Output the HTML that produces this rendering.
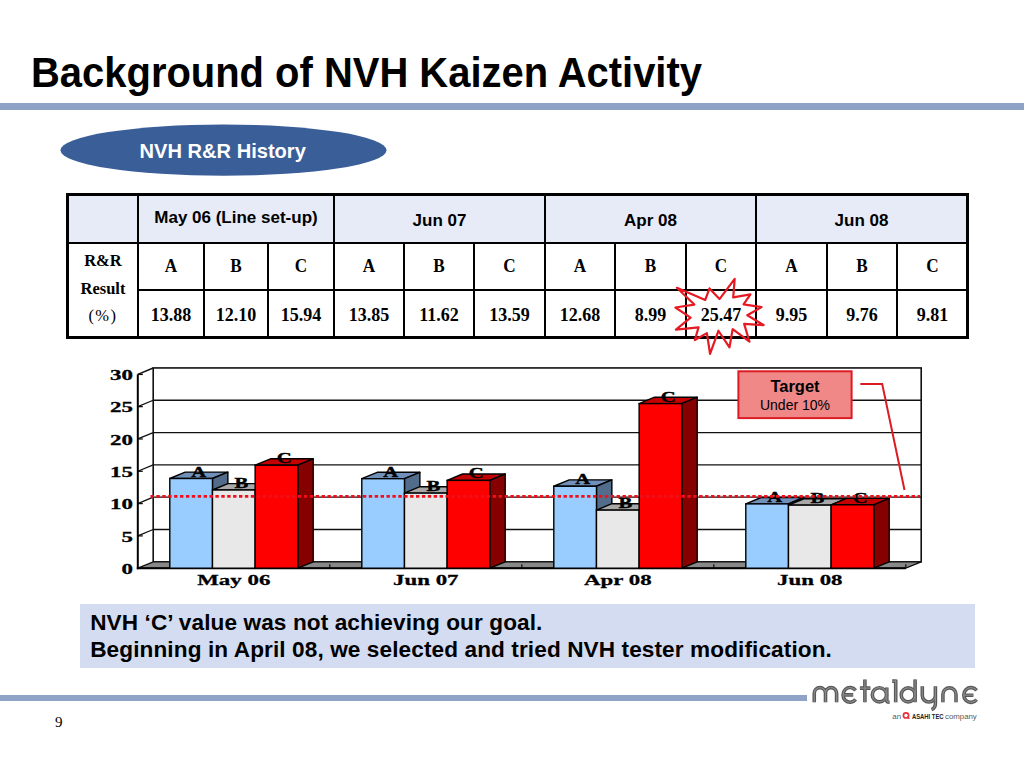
<!DOCTYPE html>
<html><head><meta charset="utf-8">
<style>
*{margin:0;padding:0;box-sizing:border-box}
html,body{width:1024px;height:768px;overflow:hidden;background:#fff}
body{position:relative;font-family:"Liberation Sans",sans-serif;color:#000}
.abs{position:absolute}
.ln{position:absolute;background:#000}
.hd{position:absolute;text-align:center;font:bold 17px/20px "Liberation Sans",sans-serif;white-space:nowrap}
.ab{position:absolute;text-align:center;font:bold 19.5px/20px "Liberation Serif",serif;transform:scaleX(0.88)}
.vv{position:absolute;text-align:center;font:bold 18px/20px "Liberation Serif",serif}
.rr{position:absolute;text-align:center;font:bold 16.5px/28.3px "Liberation Serif",serif}
#title{position:absolute;left:31.2px;top:47.8px;font:bold 42px/50px "Liberation Sans",sans-serif;white-space:nowrap;transform:scaleX(0.951);transform-origin:0 0}
#tl{position:absolute;left:0;top:103px;width:1024px;height:7px;background:#8fa3c6}
#bl{position:absolute;left:0;top:695px;width:807px;height:6px;background:#8fa3c6}
#box{position:absolute;left:80px;top:604px;width:895px;height:64px;background:#d4dcf1}
#box div{position:absolute;left:10.2px;font:bold 22.6px/24px "Liberation Sans",sans-serif;letter-spacing:0.1px;white-space:nowrap}
#pn{position:absolute;left:55px;top:713px;font:15px/18px "Liberation Serif",serif}
</style></head><body>
<div id="title">Background of NVH Kaizen Activity</div>
<div id="tl"></div>
<svg class="abs" style="left:0;top:0" width="1024" height="768" viewBox="0 0 1024 768">
<ellipse cx="223.5" cy="150.2" rx="163" ry="25.6" fill="#3a5e98"/>
<text x="222.7" y="158.3" text-anchor="middle" font-family="Liberation Sans" font-weight="bold" font-size="20.1" fill="#fff">NVH R&amp;R History</text>
</svg>
<div style="position:absolute;left:66px;top:193px;width:903px;height:50px;background:#e7ebf7"></div>
<div class="ln" style="left:137px;top:193px;width:2px;height:146px"></div>
<div class="ln" style="left:203px;top:242px;width:2px;height:97px"></div>
<div class="ln" style="left:267px;top:242px;width:2px;height:97px"></div>
<div class="ln" style="left:333px;top:193px;width:2px;height:146px"></div>
<div class="ln" style="left:403px;top:242px;width:2px;height:97px"></div>
<div class="ln" style="left:473px;top:242px;width:2px;height:97px"></div>
<div class="ln" style="left:544px;top:193px;width:2px;height:146px"></div>
<div class="ln" style="left:614px;top:242px;width:2px;height:97px"></div>
<div class="ln" style="left:685px;top:242px;width:2px;height:97px"></div>
<div class="ln" style="left:755px;top:193px;width:2px;height:146px"></div>
<div class="ln" style="left:826px;top:242px;width:2px;height:97px"></div>
<div class="ln" style="left:896px;top:242px;width:2px;height:97px"></div>
<div class="ln" style="left:66px;top:242px;width:903px;height:2px"></div>
<div class="ln" style="left:137px;top:289px;width:832px;height:2px"></div>
<div class="ln" style="left:66px;top:193px;width:903px;height:3px"></div>
<div class="ln" style="left:66px;top:336px;width:903px;height:3px"></div>
<div class="ln" style="left:66px;top:193px;width:3px;height:146px"></div>
<div class="ln" style="left:966px;top:193px;width:3px;height:146px"></div>
<div class="hd" style="left:139px;width:194px;top:207.5px">May 06 (Line set-up)</div>
<div class="hd" style="left:335px;width:209px;top:210.5px">Jun 07</div>
<div class="hd" style="left:546px;width:209px;top:210.5px">Apr 08</div>
<div class="hd" style="left:757px;width:209px;top:210.5px">Jun 08</div>
<div class="ab" style="left:139px;width:64px;top:256px">A</div>
<div class="vv" style="left:139px;width:64px;top:305.2px">13.88</div>
<div class="ab" style="left:205px;width:62px;top:256px">B</div>
<div class="vv" style="left:205px;width:62px;top:305.2px">12.10</div>
<div class="ab" style="left:269px;width:64px;top:256px">C</div>
<div class="vv" style="left:269px;width:64px;top:305.2px">15.94</div>
<div class="ab" style="left:335px;width:68px;top:256px">A</div>
<div class="vv" style="left:335px;width:68px;top:305.2px">13.85</div>
<div class="ab" style="left:405px;width:68px;top:256px">B</div>
<div class="vv" style="left:405px;width:68px;top:305.2px">11.62</div>
<div class="ab" style="left:475px;width:69px;top:256px">C</div>
<div class="vv" style="left:475px;width:69px;top:305.2px">13.59</div>
<div class="ab" style="left:546px;width:68px;top:256px">A</div>
<div class="vv" style="left:546px;width:68px;top:305.2px">12.68</div>
<div class="ab" style="left:616px;width:69px;top:256px">B</div>
<div class="vv" style="left:616px;width:69px;top:305.2px">8.99</div>
<div class="ab" style="left:687px;width:68px;top:256px">C</div>
<div class="vv" style="left:687px;width:68px;top:305.2px">25.47</div>
<div class="ab" style="left:757px;width:69px;top:256px">A</div>
<div class="vv" style="left:757px;width:69px;top:305.2px">9.95</div>
<div class="ab" style="left:828px;width:68px;top:256px">B</div>
<div class="vv" style="left:828px;width:68px;top:305.2px">9.76</div>
<div class="ab" style="left:898px;width:69px;top:256px">C</div>
<div class="vv" style="left:898px;width:69px;top:305.2px">9.81</div>
<div class="rr" style="left:69px;width:68px;top:247px">R&amp;R<br>Result<br><span style="font-weight:normal;letter-spacing:1.5px;position:relative;top:-2px">(%)</span></div>
<svg class="abs" style="left:0;top:0" width="1024" height="768" viewBox="0 0 1024 768">
<polygon points="719.5,299.04 734.7,278.9 733.2,297.39 750.45,294.38 743.6,304.3 761.55,307.15 747.3,315.27 763.6,325.05 744.15,323.84 749.49,341.73 732.65,329.1 729.49,347.43 718.41,330.76 710.05,353.9 706.9,333.16 694.84,340.07 698.54,327.29 675.95,329.55 690.6,317.66 675.4,307.51 694.29,304.58 676.91,287.81 705.26,299.97 709.5,288.38" fill="none" stroke="#e61a22" stroke-width="2.2" stroke-linejoin="round"/>
<rect x="153.2" y="367.94" width="768" height="193.86" fill="#fff" stroke="none"/>
<line x1="153.2" y1="529.49" x2="921.2" y2="529.49" stroke="#111" stroke-width="1.3"/>
<line x1="137.8" y1="535.89" x2="153.2" y2="529.49" stroke="#111" stroke-width="1.3"/>
<line x1="137.8" y1="535.89" x2="142.8" y2="535.89" stroke="#111" stroke-width="1.3"/>
<line x1="153.2" y1="497.18" x2="921.2" y2="497.18" stroke="#111" stroke-width="1.3"/>
<line x1="137.8" y1="503.58" x2="153.2" y2="497.18" stroke="#111" stroke-width="1.3"/>
<line x1="137.8" y1="503.58" x2="142.8" y2="503.58" stroke="#111" stroke-width="1.3"/>
<line x1="153.2" y1="464.87" x2="921.2" y2="464.87" stroke="#111" stroke-width="1.3"/>
<line x1="137.8" y1="471.27" x2="153.2" y2="464.87" stroke="#111" stroke-width="1.3"/>
<line x1="137.8" y1="471.27" x2="142.8" y2="471.27" stroke="#111" stroke-width="1.3"/>
<line x1="153.2" y1="432.56" x2="921.2" y2="432.56" stroke="#111" stroke-width="1.3"/>
<line x1="137.8" y1="438.96" x2="153.2" y2="432.56" stroke="#111" stroke-width="1.3"/>
<line x1="137.8" y1="438.96" x2="142.8" y2="438.96" stroke="#111" stroke-width="1.3"/>
<line x1="153.2" y1="400.25" x2="921.2" y2="400.25" stroke="#111" stroke-width="1.3"/>
<line x1="137.8" y1="406.65" x2="153.2" y2="400.25" stroke="#111" stroke-width="1.3"/>
<line x1="137.8" y1="406.65" x2="142.8" y2="406.65" stroke="#111" stroke-width="1.3"/>
<line x1="137.8" y1="374.34" x2="153.2" y2="367.94" stroke="#111" stroke-width="1.5"/>
<line x1="137.8" y1="374.34" x2="142.8" y2="374.34" stroke="#111" stroke-width="1.5"/>
<rect x="153.2" y="367.94" width="768" height="193.86" fill="none" stroke="#111" stroke-width="1.6"/>
<polygon points="137.8,568.2 905.8,568.2 921.2,561.8 153.2,561.8" fill="#888" stroke="#111" stroke-width="1.3"/>
<line x1="329.8" y1="568.2" x2="329.8" y2="564.2" stroke="#111" stroke-width="1.2"/>
<line x1="521.8" y1="568.2" x2="521.8" y2="564.2" stroke="#111" stroke-width="1.2"/>
<line x1="713.8" y1="568.2" x2="713.8" y2="564.2" stroke="#111" stroke-width="1.2"/>
<line x1="905.8" y1="568.2" x2="905.8" y2="564.2" stroke="#111" stroke-width="1.2"/>
<line x1="137.8" y1="374.34" x2="137.8" y2="569.2" stroke="#000" stroke-width="2"/>
<line x1="136.8" y1="568.2" x2="905.8" y2="568.2" stroke="#000" stroke-width="2"/>
<polygon points="169.8,478.51 212.47,478.51 227.87,472.11 185.2,472.11" fill="#7090ba" stroke="#000" stroke-width="1.4" stroke-linejoin="round"/>
<polygon points="212.47,478.51 227.87,472.11 227.87,561.8 212.47,568.2" fill="#526c8c" stroke="#000" stroke-width="1.4" stroke-linejoin="round"/>
<rect x="169.8" y="478.51" width="42.67" height="89.69" fill="#99ccff" stroke="#000" stroke-width="1.4"/>
<polygon points="212.47,490.01 255.13,490.01 270.53,483.61 227.87,483.61" fill="#a8a8a8" stroke="#000" stroke-width="1.4" stroke-linejoin="round"/>
<polygon points="255.13,490.01 270.53,483.61 270.53,561.8 255.13,568.2" fill="#7a7a7a" stroke="#000" stroke-width="1.4" stroke-linejoin="round"/>
<rect x="212.47" y="490.01" width="42.67" height="78.19" fill="#e8e8e8" stroke="#000" stroke-width="1.4"/>
<polygon points="255.13,465.2 297.8,465.2 313.2,458.8 270.53,458.8" fill="#c40000" stroke="#000" stroke-width="1.4" stroke-linejoin="round"/>
<polygon points="297.8,465.2 313.2,458.8 313.2,561.8 297.8,568.2" fill="#860000" stroke="#000" stroke-width="1.4" stroke-linejoin="round"/>
<rect x="255.13" y="465.2" width="42.67" height="103" fill="#ff0000" stroke="#000" stroke-width="1.4"/>
<polygon points="361.8,478.7 404.47,478.7 419.87,472.3 377.2,472.3" fill="#7090ba" stroke="#000" stroke-width="1.4" stroke-linejoin="round"/>
<polygon points="404.47,478.7 419.87,472.3 419.87,561.8 404.47,568.2" fill="#526c8c" stroke="#000" stroke-width="1.4" stroke-linejoin="round"/>
<rect x="361.8" y="478.7" width="42.67" height="89.5" fill="#99ccff" stroke="#000" stroke-width="1.4"/>
<polygon points="404.47,493.11 447.13,493.11 462.53,486.71 419.87,486.71" fill="#a8a8a8" stroke="#000" stroke-width="1.4" stroke-linejoin="round"/>
<polygon points="447.13,493.11 462.53,486.71 462.53,561.8 447.13,568.2" fill="#7a7a7a" stroke="#000" stroke-width="1.4" stroke-linejoin="round"/>
<rect x="404.47" y="493.11" width="42.67" height="75.09" fill="#e8e8e8" stroke="#000" stroke-width="1.4"/>
<polygon points="447.13,480.38 489.8,480.38 505.2,473.98 462.53,473.98" fill="#c40000" stroke="#000" stroke-width="1.4" stroke-linejoin="round"/>
<polygon points="489.8,480.38 505.2,473.98 505.2,561.8 489.8,568.2" fill="#860000" stroke="#000" stroke-width="1.4" stroke-linejoin="round"/>
<rect x="447.13" y="480.38" width="42.67" height="87.82" fill="#ff0000" stroke="#000" stroke-width="1.4"/>
<polygon points="553.8,486.26 596.47,486.26 611.87,479.86 569.2,479.86" fill="#7090ba" stroke="#000" stroke-width="1.4" stroke-linejoin="round"/>
<polygon points="596.47,486.26 611.87,479.86 611.87,561.8 596.47,568.2" fill="#526c8c" stroke="#000" stroke-width="1.4" stroke-linejoin="round"/>
<rect x="553.8" y="486.26" width="42.67" height="81.94" fill="#99ccff" stroke="#000" stroke-width="1.4"/>
<polygon points="596.47,510.11 639.13,510.11 654.53,503.71 611.87,503.71" fill="#a8a8a8" stroke="#000" stroke-width="1.4" stroke-linejoin="round"/>
<polygon points="639.13,510.11 654.53,503.71 654.53,561.8 639.13,568.2" fill="#7a7a7a" stroke="#000" stroke-width="1.4" stroke-linejoin="round"/>
<rect x="596.47" y="510.11" width="42.67" height="58.09" fill="#e8e8e8" stroke="#000" stroke-width="1.4"/>
<polygon points="639.13,403.61 681.8,403.61 697.2,397.21 654.53,397.21" fill="#c40000" stroke="#000" stroke-width="1.4" stroke-linejoin="round"/>
<polygon points="681.8,403.61 697.2,397.21 697.2,561.8 681.8,568.2" fill="#860000" stroke="#000" stroke-width="1.4" stroke-linejoin="round"/>
<rect x="639.13" y="403.61" width="42.67" height="164.59" fill="#ff0000" stroke="#000" stroke-width="1.4"/>
<polygon points="745.8,503.9 788.47,503.9 803.87,497.5 761.2,497.5" fill="#7090ba" stroke="#000" stroke-width="1.4" stroke-linejoin="round"/>
<polygon points="788.47,503.9 803.87,497.5 803.87,561.8 788.47,568.2" fill="#526c8c" stroke="#000" stroke-width="1.4" stroke-linejoin="round"/>
<rect x="745.8" y="503.9" width="42.67" height="64.3" fill="#99ccff" stroke="#000" stroke-width="1.4"/>
<polygon points="788.47,505.13 831.13,505.13 846.53,498.73 803.87,498.73" fill="#a8a8a8" stroke="#000" stroke-width="1.4" stroke-linejoin="round"/>
<polygon points="831.13,505.13 846.53,498.73 846.53,561.8 831.13,568.2" fill="#7a7a7a" stroke="#000" stroke-width="1.4" stroke-linejoin="round"/>
<rect x="788.47" y="505.13" width="42.67" height="63.07" fill="#e8e8e8" stroke="#000" stroke-width="1.4"/>
<polygon points="831.13,504.81 873.8,504.81 889.2,498.41 846.53,498.41" fill="#c40000" stroke="#000" stroke-width="1.4" stroke-linejoin="round"/>
<polygon points="873.8,504.81 889.2,498.41 889.2,561.8 873.8,568.2" fill="#860000" stroke="#000" stroke-width="1.4" stroke-linejoin="round"/>
<rect x="831.13" y="504.81" width="42.67" height="63.39" fill="#ff0000" stroke="#000" stroke-width="1.4"/>
<text x="0" y="0" transform="translate(198.83,476.51) scale(1.5,1)" text-anchor="middle" font-family="Liberation Serif" font-weight="bold" font-size="13.8" stroke="#000" stroke-width="0.35">A</text>
<text x="0" y="0" transform="translate(241.5,488.01) scale(1.5,1)" text-anchor="middle" font-family="Liberation Serif" font-weight="bold" font-size="13.8" stroke="#000" stroke-width="0.35">B</text>
<text x="0" y="0" transform="translate(284.17,463.2) scale(1.5,1)" text-anchor="middle" font-family="Liberation Serif" font-weight="bold" font-size="13.8" stroke="#000" stroke-width="0.35">C</text>
<text x="0" y="0" transform="translate(390.83,476.7) scale(1.5,1)" text-anchor="middle" font-family="Liberation Serif" font-weight="bold" font-size="13.8" stroke="#000" stroke-width="0.35">A</text>
<text x="0" y="0" transform="translate(433.5,491.11) scale(1.5,1)" text-anchor="middle" font-family="Liberation Serif" font-weight="bold" font-size="13.8" stroke="#000" stroke-width="0.35">B</text>
<text x="0" y="0" transform="translate(476.17,478.38) scale(1.5,1)" text-anchor="middle" font-family="Liberation Serif" font-weight="bold" font-size="13.8" stroke="#000" stroke-width="0.35">C</text>
<text x="0" y="0" transform="translate(582.83,484.26) scale(1.5,1)" text-anchor="middle" font-family="Liberation Serif" font-weight="bold" font-size="13.8" stroke="#000" stroke-width="0.35">A</text>
<text x="0" y="0" transform="translate(625.5,508.11) scale(1.5,1)" text-anchor="middle" font-family="Liberation Serif" font-weight="bold" font-size="13.8" stroke="#000" stroke-width="0.35">B</text>
<text x="0" y="0" transform="translate(668.17,401.61) scale(1.5,1)" text-anchor="middle" font-family="Liberation Serif" font-weight="bold" font-size="13.8" stroke="#000" stroke-width="0.35">C</text>
<text x="0" y="0" transform="translate(774.83,501.9) scale(1.5,1)" text-anchor="middle" font-family="Liberation Serif" font-weight="bold" font-size="13.8" stroke="#000" stroke-width="0.35">A</text>
<text x="0" y="0" transform="translate(817.5,503.13) scale(1.5,1)" text-anchor="middle" font-family="Liberation Serif" font-weight="bold" font-size="13.8" stroke="#000" stroke-width="0.35">B</text>
<text x="0" y="0" transform="translate(860.17,502.81) scale(1.5,1)" text-anchor="middle" font-family="Liberation Serif" font-weight="bold" font-size="13.8" stroke="#000" stroke-width="0.35">C</text>
<text x="0" y="0" transform="translate(133,574) scale(1.48,1)" text-anchor="end" font-family="Liberation Serif" font-weight="bold" font-size="15.5" stroke="#000" stroke-width="0.3">0</text>
<text x="0" y="0" transform="translate(133,541.69) scale(1.48,1)" text-anchor="end" font-family="Liberation Serif" font-weight="bold" font-size="15.5" stroke="#000" stroke-width="0.3">5</text>
<text x="0" y="0" transform="translate(133,509.38) scale(1.48,1)" text-anchor="end" font-family="Liberation Serif" font-weight="bold" font-size="15.5" stroke="#000" stroke-width="0.3">10</text>
<text x="0" y="0" transform="translate(133,477.07) scale(1.48,1)" text-anchor="end" font-family="Liberation Serif" font-weight="bold" font-size="15.5" stroke="#000" stroke-width="0.3">15</text>
<text x="0" y="0" transform="translate(133,444.76) scale(1.48,1)" text-anchor="end" font-family="Liberation Serif" font-weight="bold" font-size="15.5" stroke="#000" stroke-width="0.3">20</text>
<text x="0" y="0" transform="translate(133,412.45) scale(1.48,1)" text-anchor="end" font-family="Liberation Serif" font-weight="bold" font-size="15.5" stroke="#000" stroke-width="0.3">25</text>
<text x="0" y="0" transform="translate(133,380.14) scale(1.48,1)" text-anchor="end" font-family="Liberation Serif" font-weight="bold" font-size="15.5" stroke="#000" stroke-width="0.3">30</text>
<text x="0" y="0" transform="translate(233.8,585) scale(1.6,1)" text-anchor="middle" font-family="Liberation Serif" font-weight="bold" font-size="14.3" stroke="#000" stroke-width="0.25">May 06</text>
<text x="0" y="0" transform="translate(425.8,585) scale(1.6,1)" text-anchor="middle" font-family="Liberation Serif" font-weight="bold" font-size="14.3" stroke="#000" stroke-width="0.25">Jun 07</text>
<text x="0" y="0" transform="translate(617.8,585) scale(1.6,1)" text-anchor="middle" font-family="Liberation Serif" font-weight="bold" font-size="14.3" stroke="#000" stroke-width="0.25">Apr 08</text>
<text x="0" y="0" transform="translate(809.8,585) scale(1.6,1)" text-anchor="middle" font-family="Liberation Serif" font-weight="bold" font-size="14.3" stroke="#000" stroke-width="0.25">Jun 08</text>
<line x1="150.5" y1="496.4" x2="920" y2="496.4" stroke="#f0101c" stroke-width="2.9" stroke-dasharray="3.4 2.5"/>
<rect x="738.4" y="371.3" width="113.2" height="46.8" fill="#f08888" stroke="#dc1c24" stroke-width="2"/>
<text x="795" y="392" text-anchor="middle" font-family="Liberation Sans" font-weight="bold" font-size="16.5">Target</text>
<text x="795" y="410" text-anchor="middle" font-family="Liberation Sans" font-size="14">Under 10%</text>
<polyline points="860.3,384 882.2,384 904.5,490" fill="none" stroke="#dc1c24" stroke-width="2"/>
</svg>
<div id="box"><div style="top:7.2px">NVH &#8216;C&#8217; value was not achieving our goal.</div><div style="top:34.3px">Beginning in April 08, we selected and tried NVH tester modification.</div></div>
<div id="bl"></div>
<div id="pn">9</div>
<svg class="abs" style="left:0;top:0" width="1024" height="768" viewBox="0 0 1024 768">
<g fill="none" stroke-linejoin="round" stroke="#585858" stroke-width="3.6">
<path d="M814.25,702.2 V693.2 A5.62,5.62 0 0 1 825.5,693.2 V702.2 M825.5,693.2 A5.55,5.55 0 0 1 836.6,693.2 V702.2"/>
<path d="M855.6,690.4 A7,7.4 0 1 0 855.6,699.4 M842.6,694.9 H853.2"/>
<path d="M864.9,679.4 V702.2 M859.9,688.1 H870.4"/>
<circle cx="879.4" cy="694.8" r="7.1"/>
<path d="M886.8,687.6 V700.5 Q886.8,702.2 889.6,702.2"/>
<path d="M892.2,681.1 H895.7 M895.7,679.4 V702.2"/>
<circle cx="908.2" cy="694.9" r="7.0"/>
<path d="M915.1,679.4 V702.2"/>
<path d="M922.3,686.2 V695.5 A6.55,6.55 0 0 0 935.4,695.5 M935.4,686.2 V703.5 Q935.4,708 931.6,709.6"/>
<path d="M942.9,702.2 V694.4 A6.55,6.55 0 0 1 956,694.4 V702.2"/>
<path d="M976.6,690.4 A7.2,7.4 0 1 0 976.6,699.6 M962.8,695.2 H973.4"/>
</g>
<g fill="none" stroke-linejoin="round" stroke="#8a8a8a" stroke-width="1.2">
<path d="M814.25,702.2 V693.2 A5.62,5.62 0 0 1 825.5,693.2 V702.2 M825.5,693.2 A5.55,5.55 0 0 1 836.6,693.2 V702.2"/>
<path d="M855.6,690.4 A7,7.4 0 1 0 855.6,699.4 M842.6,694.9 H853.2"/>
<path d="M864.9,679.4 V702.2 M859.9,688.1 H870.4"/>
<circle cx="879.4" cy="694.8" r="7.1"/>
<path d="M886.8,687.6 V700.5 Q886.8,702.2 889.6,702.2"/>
<path d="M892.2,681.1 H895.7 M895.7,679.4 V702.2"/>
<circle cx="908.2" cy="694.9" r="7.0"/>
<path d="M915.1,679.4 V702.2"/>
<path d="M922.3,686.2 V695.5 A6.55,6.55 0 0 0 935.4,695.5 M935.4,686.2 V703.5 Q935.4,708 931.6,709.6"/>
<path d="M942.9,702.2 V694.4 A6.55,6.55 0 0 1 956,694.4 V702.2"/>
<path d="M976.6,690.4 A7.2,7.4 0 1 0 976.6,699.6 M962.8,695.2 H973.4"/>
</g>
<text x="892.3" y="718.8" font-family="Liberation Sans" font-size="7.2" fill="#5a5a5a" textLength="8.8" lengthAdjust="spacingAndGlyphs">an</text>
<circle cx="906" cy="715.4" r="2.6" fill="none" stroke="#e8303a" stroke-width="1.7"/>
<path d="M907.3,716.8 L909.4,718.8" stroke="#e8303a" stroke-width="1.4"/>
<text x="911.9" y="718.8" font-family="Liberation Sans" font-weight="bold" font-size="6.4" fill="#222" textLength="31.7" lengthAdjust="spacingAndGlyphs">ASAHI TEC</text>
<text x="945" y="718.8" font-family="Liberation Sans" font-size="7.2" fill="#5a5a5a" textLength="31.8" lengthAdjust="spacingAndGlyphs">company</text>
</svg>
</body></html>
